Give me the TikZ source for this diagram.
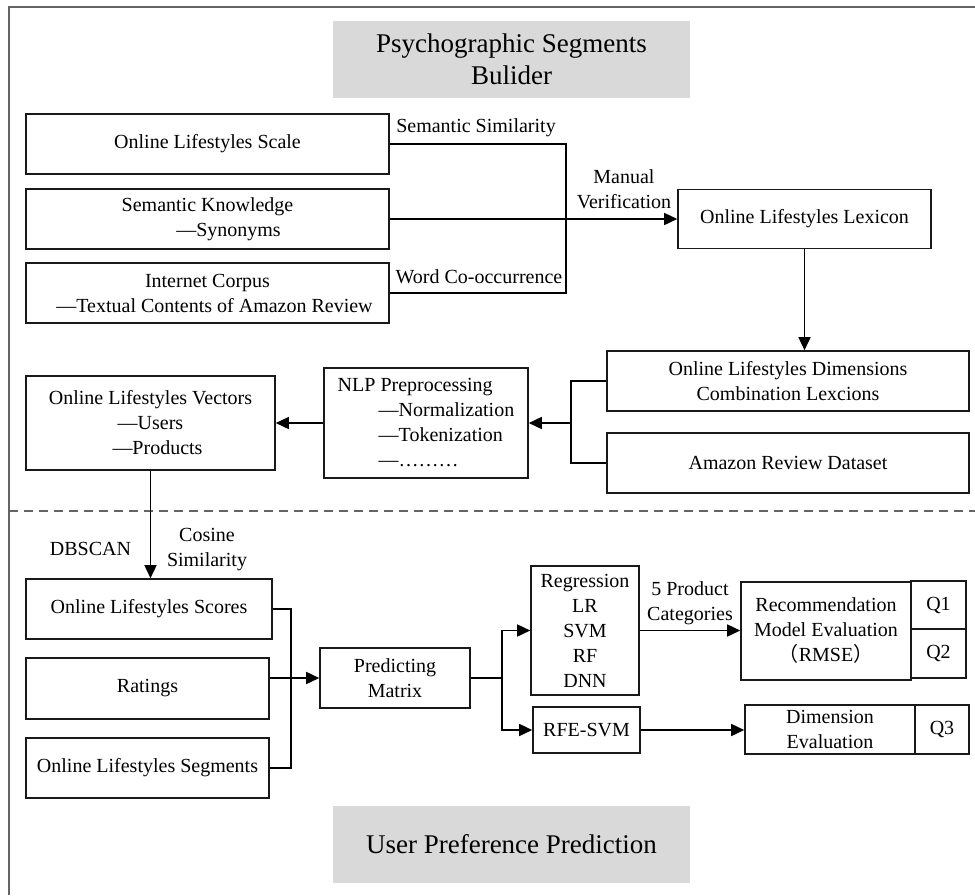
\documentclass[tikz,border=0pt]{standalone}
\usepackage{fontspec}
\setmainfont{Liberation Serif}
\newfontfamily\cjk{Noto Sans CJK SC}
\usepackage{xcolor}
\usepackage{tikz}
\usetikzlibrary{arrows.meta}

\definecolor{titlegray}{RGB}{217,217,217}
\definecolor{framegray}{RGB}{100,100,100}

\begin{document}
\begin{tikzpicture}[x=1pt,y=-1pt,>={Triangle[length=13pt,width=12pt]},line width=1.6pt]
    \tikzset{box/.style={draw=black!90, inner sep=0pt, align=center, font=\fontsize{20}{25}\selectfont},
             title/.style={fill=titlegray, inner sep=0pt, align=center, minimum width=357pt, minimum height=77pt, font=\fontsize{27}{32}\selectfont},
             lbl/.style={inner sep=0pt, align=center, font=\fontsize{20}{25}\selectfont}}
    \useasboundingbox (0,0) rectangle (975,895);

    % frame and separator
    \draw[framegray, line width=1.3pt] (9,895) -- (9,7) -- (975,7);
    \draw[framegray, line width=1.4pt, dash pattern=on 9pt off 6pt] (9,511) -- (975,511);

    \node[title] (builder) at (511.5,59.5) {Psychographic Segments\\Bulider};
    \node[title] (predtitle) at (511.5,844.5) {User Preference Prediction};

    % upper part
    \node[box, minimum width=363pt, minimum height=60pt] (scale) at (207.5,144) {Online Lifestyles Scale};
    \node[box, minimum width=363pt, minimum height=60pt] (know) at (207.5,219) {Semantic Knowledge\\\hspace*{42pt}—Synonyms};
    \node[box, minimum width=363pt, minimum height=60pt] (corpus) at (207.5,293) {Internet Corpus\\\hspace*{14pt}—Textual Contents of Amazon Review};
    \node[box, minimum width=253pt, minimum height=59pt] (lexicon) at (804.5,219) {Online Lifestyles Lexicon};
    \node[box, minimum width=362pt, minimum height=60pt] (dims) at (788,381) {Online Lifestyles Dimensions\\Combination Lexcions};
    \node[box, minimum width=362pt, minimum height=60pt] (amazon) at (788,463) {Amazon Review Dataset};
    \node[box, align=left, minimum width=204pt, minimum height=110pt] (nlp) at (426,423) {NLP Preprocessing\\\hspace*{41pt}—Normalization\\\hspace*{41pt}—Tokenization\\\hspace*{41pt}—………};
    \node[box, minimum width=249pt, minimum height=94pt] (vectors) at (150.5,423) {Online Lifestyles Vectors\\—Users\\\hspace*{14pt}—Products};

    \node[lbl] (simlbl) at (476,128) {Semantic Similarity};
    \node[lbl] (coolbl) at (479,277) {Word Co-occurrence};
    \node[lbl] (verlbl) at (624,189) {Manual\\Verification};

    \coordinate (j1) at (566,144);
    \coordinate (j2) at (571,423);
    \draw (scale.east) -- (j1) |- (corpus.east);
    \draw[->] (know.east) -- (lexicon.west);
    \draw[->] (lexicon.south) -- (lexicon.south |- dims.north);
    \draw (dims.west) -| (j2) |- (amazon.west);
    \draw[->] (j2) -- (nlp.east);
    \draw[->] (nlp.west) -- (vectors.east);

    % lower part
    \node[box, minimum width=246pt, minimum height=60pt] (scores) at (149,609) {Online Lifestyles Scores};
    \node[box, minimum width=243pt, minimum height=61pt] (ratings) at (147.5,688.5) {Ratings};
    \node[box, minimum width=243pt, minimum height=60pt] (segments) at (147.5,768) {Online Lifestyles Segments};
    \node[box, minimum width=150pt, minimum height=60pt] (predict) at (395,678) {Predicting\\Matrix};
    \node[box, minimum width=108pt, minimum height=129pt] (regress) at (585,630.5) {Regression\\LR\\SVM\\RF\\DNN};
    \node[box, minimum width=107pt, minimum height=46pt] (rfe) at (586.5,730) {RFE-SVM};
    \node[box, minimum width=170pt, minimum height=98pt] (recommend) at (826,631) {Recommendation\\Model Evaluation\\{\cjk （}RMSE{\cjk ）}};
    \node[box, minimum width=55pt, minimum height=48pt] (q1) at (938.5,605) {Q1};
    \node[box, minimum width=55pt, minimum height=49pt] (q2) at (938.5,653.5) {Q2};
    \node[box, minimum width=170pt, minimum height=49pt] (dimeval) at (830,729.5) {Dimension\\Evaluation};
    \node[box, minimum width=54pt, minimum height=49pt] (q3) at (942,729.5) {Q3};

    \node[lbl] (dbscan) at (90.5,549) {DBSCAN};
    \node[lbl] (coslbl) at (207,549.5) {Cosine\\Similarity};
    \node[lbl] (catlbl) at (690,603.5) {5 Product\\Categories};

    \coordinate (j3) at (291,678);
    \coordinate (j4) at (502,678);
    \draw[->] (vectors.south) -- (vectors.south |- scores.north);
    \draw (scores.east) -| (j3) |- (segments.east);
    \draw[->] (ratings.east |- predict.west) -- (predict.west);
    \draw (predict.east) -- (j4);
    \draw[->] (j4) |- (regress.west);
    \draw[->] (j4) |- (rfe.west);
    \draw[->] (regress.east) -- (regress.east -| recommend.west);
    \draw[->] (rfe.east) -- (rfe.east -| dimeval.west);
\end{tikzpicture}
\end{document}
